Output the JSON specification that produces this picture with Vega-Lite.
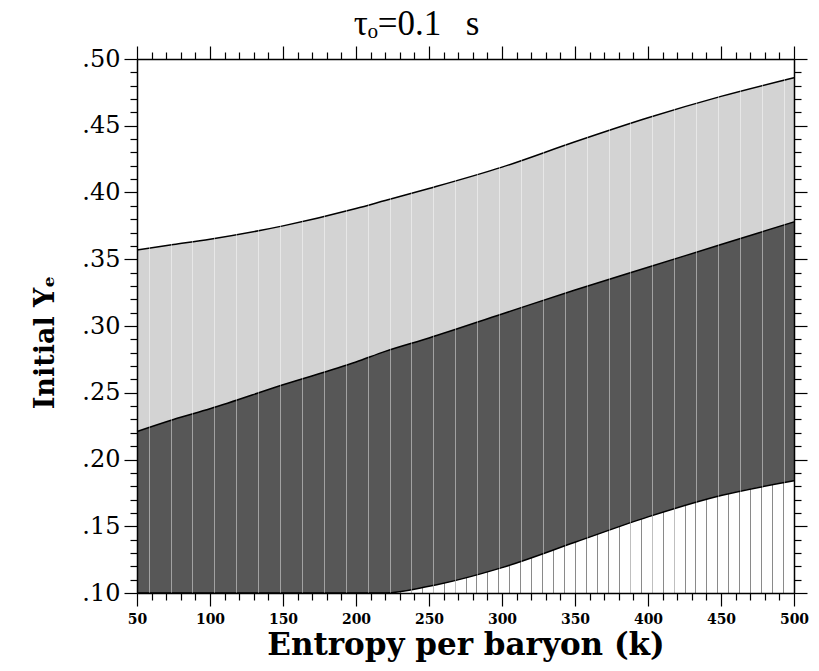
{
  "$schema": "https://vega.github.io/schema/vega-lite/v6.json",
  "autosize": "none",
  "width": 657,
  "height": 534,
  "padding": {"left": 137, "top": 59, "right": 25, "bottom": 78},
  "background": "white",
  "config": {"view": {"stroke": null}, "font": "DejaVu Serif", "title": {"font": "Liberation Serif"}},
  "title": {"text": "τₒ=0.1\u2002\u2009s", "font": "Liberation Serif", "fontSize": 35, "fontWeight": "normal", "color": "black", "offset": 3, "dx": -49},
  "data": {"values": [
    {"x": 50, "upper": 0.357, "middle": 0.221, "lower": 0.100},
    {"x": 75, "upper": 0.361, "middle": 0.230, "lower": 0.100},
    {"x": 100, "upper": 0.365, "middle": 0.238, "lower": 0.100},
    {"x": 150, "upper": 0.375, "middle": 0.256, "lower": 0.100},
    {"x": 200, "upper": 0.388, "middle": 0.273, "lower": 0.100},
    {"x": 220, "upper": 0.394, "middle": 0.281, "lower": 0.100},
    {"x": 250, "upper": 0.403, "middle": 0.291, "lower": 0.105},
    {"x": 300, "upper": 0.419, "middle": 0.309, "lower": 0.119},
    {"x": 350, "upper": 0.438, "middle": 0.327, "lower": 0.138},
    {"x": 400, "upper": 0.456, "middle": 0.344, "lower": 0.157},
    {"x": 450, "upper": 0.472, "middle": 0.361, "lower": 0.173},
    {"x": 500, "upper": 0.486, "middle": 0.378, "lower": 0.184}
  ]},
  "resolve": {"axis": {"x": "independent", "y": "independent"}},
  "layer": [
    {
      "mark": {"type": "area", "fill": "white", "stroke": null, "interpolate": "monotone"},
      "encoding": {
        "x": {"field": "x", "type": "quantitative", "scale": {"domain": [50, 500], "nice": false},
          "axis": {"orient": "bottom", "grid": true, "ticks": false, "labels": false, "domain": false, "title": null, "zindex": 0,
            "gridColor": "#8a8a8a", "gridWidth": 1,
            "values": [50,57.5,65,72.5,80,87.5,95,102.5,110,117.5,125,132.5,140,147.5,155,162.5,170,177.5,185,192.5,200,207.5,215,222.5,230,237.5,245,252.5,260,267.5,275,282.5,290,297.5,305,312.5,320,327.5,335,342.5,350,357.5,365,372.5,380,387.5,395,402.5,410,417.5,425,432.5,440,447.5,455,462.5,470,477.5,485,492.5,500]}},
        "y": {"field": "upper", "type": "quantitative", "scale": {"domain": [0.1, 0.5], "nice": false, "zero": false}, "axis": null},
        "y2": {"datum": 0.5}
      }
    },
    {
      "mark": {"type": "area", "fill": "#d3d3d3", "stroke": null, "interpolate": "monotone"},
      "encoding": {
        "x": {"field": "x", "type": "quantitative",
          "axis": {"orient": "bottom", "zindex": 1, "domainColor": "black", "domainWidth": 1.5, "tickColor": "black", "tickWidth": 1.2,
            "values": [50,60,70,80,90,100,110,120,130,140,150,160,170,180,190,200,210,220,230,240,250,260,270,280,290,300,310,320,330,340,350,360,370,380,390,400,410,420,430,440,450,460,470,480,490,500],
            "tickSize": {"condition": {"test": "datum.value % 50 === 0", "value": 13}, "value": 7},
            "labelExpr": "datum.value % 50 === 0 ? datum.label : ''",
            "labelFont": "DejaVu Serif", "labelFontSize": 14, "labelFontWeight": "bold", "labelColor": "black", "labelPadding": 6, "labelFlush": false, "labelOverlap": false,
            "title": "Entropy per baryon (k)", "titleFont": "DejaVu Serif", "titleFontSize": 31, "titleFontWeight": 600, "titleColor": "black", "titlePadding": 4}},
        "y": {"field": "upper", "type": "quantitative",
          "axis": {"orient": "left", "zindex": 1, "domainColor": "black", "domainWidth": 1.5, "tickColor": "black", "tickWidth": 1.2,
            "values": [0.10,0.11,0.12,0.13,0.14,0.15,0.16,0.17,0.18,0.19,0.20,0.21,0.22,0.23,0.24,0.25,0.26,0.27,0.28,0.29,0.30,0.31,0.32,0.33,0.34,0.35,0.36,0.37,0.38,0.39,0.40,0.41,0.42,0.43,0.44,0.45,0.46,0.47,0.48,0.49,0.50],
            "tickSize": {"condition": {"test": "abs(datum.value*20 - round(datum.value*20)) < 0.001", "value": 13}, "value": 7},
            "labelExpr": "abs(datum.value*20 - round(datum.value*20)) < 0.001 ? replace(format(datum.value, '.2f'), '0.', '.') : ''",
            "labelFont": "DejaVu Serif", "labelFontSize": 24, "labelColor": "black", "labelPadding": 4, "labelFlush": false, "labelOverlap": false,
            "title": "Initial Yₑ", "titleFont": "DejaVu Serif", "titleFontSize": 27, "titleFontWeight": 600, "titleColor": "black", "titlePadding": 22, "titleY": 283}},
        "y2": {"field": "middle"}
      }
    },
    {
      "mark": {"type": "area", "fill": "#575757", "stroke": null, "interpolate": "monotone"},
      "encoding": {
        "x": {"field": "x", "type": "quantitative",
          "axis": {"orient": "top", "zindex": 1, "domainColor": "black", "domainWidth": 1.5, "tickColor": "black", "tickWidth": 1.2, "labels": false, "title": null,
            "values": [50,60,70,80,90,100,110,120,130,140,150,160,170,180,190,200,210,220,230,240,250,260,270,280,290,300,310,320,330,340,350,360,370,380,390,400,410,420,430,440,450,460,470,480,490,500],
            "tickSize": {"condition": {"test": "datum.value % 50 === 0", "value": 13}, "value": 7}}},
        "y": {"field": "middle", "type": "quantitative",
          "axis": {"orient": "right", "zindex": 1, "domainColor": "black", "domainWidth": 1.5, "tickColor": "black", "tickWidth": 1.2, "labels": false, "title": null,
            "values": [0.10,0.11,0.12,0.13,0.14,0.15,0.16,0.17,0.18,0.19,0.20,0.21,0.22,0.23,0.24,0.25,0.26,0.27,0.28,0.29,0.30,0.31,0.32,0.33,0.34,0.35,0.36,0.37,0.38,0.39,0.40,0.41,0.42,0.43,0.44,0.45,0.46,0.47,0.48,0.49,0.50],
            "tickSize": {"condition": {"test": "abs(datum.value*20 - round(datum.value*20)) < 0.001", "value": 13}, "value": 7}}},
        "y2": {"field": "lower"}
      }
    },
    {
      "mark": {"type": "line", "color": "black", "strokeWidth": 1.5, "interpolate": "monotone"},
      "encoding": {
        "x": {"field": "x", "type": "quantitative",
          "axis": {"orient": "top", "grid": true, "ticks": false, "labels": false, "domain": false, "title": null, "zindex": 1,
            "gridColor": "white", "gridOpacity": 0.45, "gridWidth": 1,
            "values": [58,73,88,103,118,133,148,163,178,193,208,223,238,253,268,283,298,313,328,343,358,373,388,403,418,433,448,463,478,493]}},
        "y": {"field": "upper", "type": "quantitative", "axis": null}
      }
    },
    {
      "mark": {"type": "line", "color": "black", "strokeWidth": 1.5, "interpolate": "monotone"},
      "encoding": {
        "x": {"field": "x", "type": "quantitative", "axis": null},
        "y": {"field": "middle", "type": "quantitative", "axis": null}
      }
    },
    {
      "mark": {"type": "line", "color": "black", "strokeWidth": 1.5, "interpolate": "monotone"},
      "encoding": {
        "x": {"field": "x", "type": "quantitative", "axis": null},
        "y": {"field": "lower", "type": "quantitative", "axis": null}
      }
    }
  ]
}
